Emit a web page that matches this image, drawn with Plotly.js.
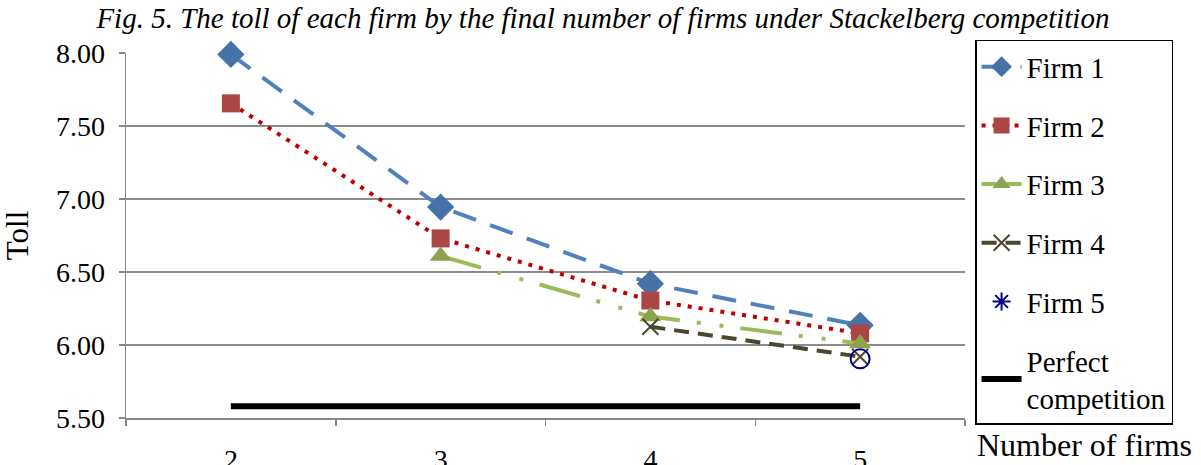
<!DOCTYPE html>
<html>
<head>
<meta charset="utf-8">
<script src="https://cdn.plot.ly/plotly-3.0.1.min.js"></script>
<style>html,body{margin:0;padding:0;background:#fff;}#chart{width:1201px;height:465px;}</style>
</head>
<body>
<div id="chart"></div>
<script>
const categories = ['2', '3', '4', '5'];
const firm1 = [7.99, 6.945, 6.42, 6.135];
const firm2 = [7.655, 6.73, 6.305, 6.08];
const firm3 = [null, 6.61, 6.195, 6.01];
const firm4 = [null, null, 6.125, 5.92];
const firm5 = [null, null, null, 5.905];
const perfect = [5.58, 5.58, 5.58, 5.58];
const seriesNames = ['Firm 1', 'Firm 2', 'Firm 3', 'Firm 4', 'Firm 5', 'Perfect<br>competition'];

const serif = '"Liberation Serif", "Times New Roman", Times, serif';

const traces = [
  {x: categories, y: firm1, name: seriesNames[0], legendgroup: 'g1', mode: 'lines+markers', cliponaxis: false,
   line: {color: '#4F81BD', width: 4, dash: '24px,15px'},
   marker: {symbol: 'diamond', size: 21, color: '#4572A7'}},
  {x: categories, y: firm2, name: seriesNames[1], legendgroup: 'g2', mode: 'lines+markers', cliponaxis: false,
   line: {color: '#C00000', width: 4, dash: '4px,7px'},
   marker: {symbol: 'square', size: 18, color: '#AA4643'}},
  {x: categories, y: firm3, name: seriesNames[2], legendgroup: 'g3', mode: 'lines+markers', cliponaxis: false,
   line: {color: '#9BBB59', width: 4, dash: '42px,17px,4px,19px,4px,17px'},
   marker: {symbol: 'triangle-up', size: 19, color: '#89A54E'}},
  {x: categories, y: firm4, name: seriesNames[3], legendgroup: 'g4', mode: 'lines+markers', cliponaxis: false,
   line: {color: '#4A4630', width: 4, dash: '15px,9px'},
   marker: {symbol: 'x-thin-open', size: 16, color: '#4A4630', line: {width: 2, color: '#4A4630'}}},
  {x: categories, y: firm5, name: seriesNames[4], legendgroup: 'g5', mode: 'markers', showlegend: false, cliponaxis: false,
   marker: {symbol: 'circle-open', size: 19, color: '#000080', line: {width: 2, color: '#000080'}}},
  {x: [null], y: [null], name: seriesNames[4], legendgroup: 'g5', mode: 'markers',
   marker: {symbol: 'asterisk-open', size: 15, color: '#000080', line: {width: 2, color: '#000080'}}},
  {x: categories, y: perfect, name: seriesNames[5], legendgroup: 'g6', mode: 'lines',
   line: {color: '#000000', width: 6}}
];

const layout = {
  width: 1201, height: 465,
  margin: {l: 126, r: 236, t: 53, b: 47},
  paper_bgcolor: '#fff', plot_bgcolor: '#fff',
  font: {family: serif, size: 28, color: '#000'},
  title: {text: '<i>Fig. 5. The toll of each firm by the final number of firms under Stackelberg competition</i>',
          font: {family: serif, size: 29, color: '#000'},
          x: 0.502, xref: 'container', xanchor: 'center', y: 0.962, yref: 'container', yanchor: 'middle'},
  xaxis: {type: 'category', range: [-0.5, 3.5], tickson: 'boundaries', ticks: 'outside', ticklen: 6, tickcolor: '#868686', tickwidth: 1.5,
          showline: true, linecolor: '#868686', linewidth: 1.5, showgrid: false, zeroline: false,
          ticklabelstandoff: 16, tickfont: {family: serif, size: 28, color: '#000'}},
  yaxis: {range: [5.5, 8.0], tickvals: [5.5, 6.0, 6.5, 7.0, 7.5, 8.0], ticktext: ['5.50','6.00','6.50','7.00','7.50','8.00'],
          ticks: 'outside', ticklen: 6, tickcolor: '#868686', tickwidth: 1.5,
          showline: true, linecolor: '#868686', linewidth: 1.5,
          showgrid: true, gridcolor: '#8c8c8c', gridwidth: 1.5, zeroline: false,
          ticklabelstandoff: 8,
          tickfont: {family: serif, size: 28, color: '#000'},
          title: {text: 'Toll', font: {family: serif, size: 31, color: '#000'}, standoff: 20}},
  legend: {x: 1.012, xanchor: 'left', y: 1.036, yanchor: 'top', bordercolor: '#000', borderwidth: 1.5,
           bgcolor: '#fff', font: {family: serif, size: 29, color: '#000'}, tracegroupgap: 18, itemwidth: 40,
           maxheight: 465},
  annotations: [
    {text: 'Number of firms', xref: 'paper', yref: 'paper', x: 1.143, y: -0.074, xanchor: 'center', yanchor: 'middle',
     showarrow: false, font: {family: serif, size: 32, color: '#000'}}
  ],
  showlegend: true
};

Plotly.newPlot('chart', traces, layout, {displayModeBar: false, staticPlot: true});
</script>
</body>
</html>
